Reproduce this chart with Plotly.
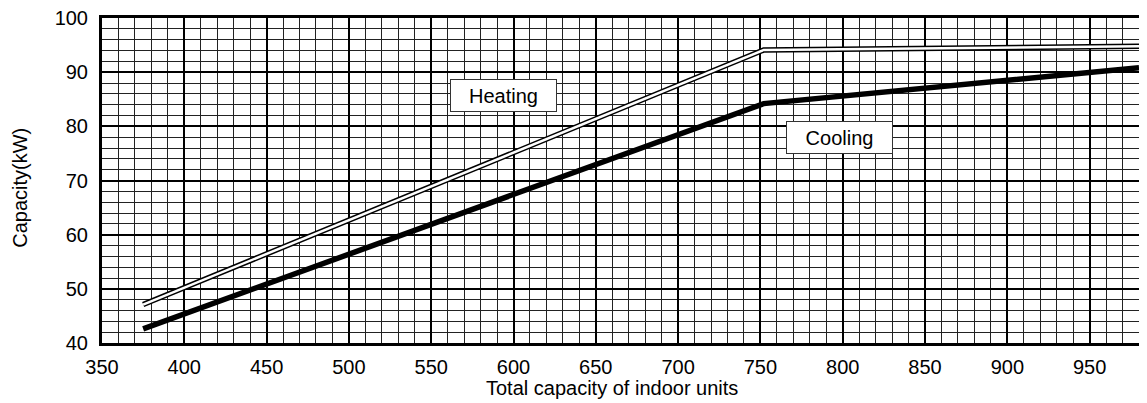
import plotly.graph_objects as go

# Data
cooling_x = [375, 752, 980]
cooling_y = [42.6, 84.2, 90.8]
heating_x = [375, 752, 980]
heating_y = [47.1, 94.1, 94.8]

x_ticks = [350, 400, 450, 500, 550, 600, 650, 700, 750, 800, 850, 900, 950]
y_ticks = [40, 50, 60, 70, 80, 90, 100]

labels = ["Heating", "Cooling"]
label_x = [594, 798]
label_y = [85.7, 78.0]

x_title = "Total capacity of indoor units"
y_title = "Capacity(kW)"

FONT = "Liberation Sans, Arial, sans-serif"

fig = go.Figure()

# Heating: double (outlined) line
fig.add_trace(go.Scatter(x=heating_x, y=heating_y, mode="lines",
                         line=dict(color="black", width=5.5), showlegend=False,
                         hoverinfo="skip"))
fig.add_trace(go.Scatter(x=heating_x, y=heating_y, mode="lines",
                         line=dict(color="white", width=2.5), showlegend=False,
                         name="Heating"))
# Cooling: thick black line
fig.add_trace(go.Scatter(x=cooling_x, y=cooling_y, mode="lines",
                         line=dict(color="black", width=5.5), showlegend=False,
                         name="Cooling"))

for t, ax_, ay_ in zip(labels, label_x, label_y):
    fig.add_annotation(x=ax_, y=ay_, text=t, showarrow=False,
                       font=dict(family=FONT, size=20, color="black"),
                       bgcolor="white", bordercolor="#333", borderwidth=1,
                       borderpad=1, width=103, height=29)

# Axis titles as annotations for exact placement
fig.add_annotation(xref="paper", yref="paper", x=0.492, y=-0.1385,
                   text=x_title, showarrow=False, xanchor="center", yanchor="middle",
                   font=dict(family=FONT, size=20, color="black"))
fig.add_annotation(xref="paper", yref="paper", x=-0.079, y=0.478,
                   text=y_title, showarrow=False, textangle=-90,
                   xanchor="center", yanchor="middle",
                   font=dict(family=FONT, size=20, color="black"))

fig.update_xaxes(range=[350, 980], tickvals=x_ticks,
                 ticktext=[str(v) for v in x_ticks],
                 showgrid=True, gridcolor="black", gridwidth=2,
                 minor=dict(dtick=10, tick0=350, showgrid=True, gridcolor="#222", gridwidth=1),
                 showline=True, linecolor="black", linewidth=3, mirror=True,
                 ticks="", ticklabelstandoff=4, zeroline=False, automargin=False,
                 ticklabeloverflow="allow",
                 tickfont=dict(family=FONT, size=20, color="black"))
fig.update_yaxes(range=[40, 100], tickvals=y_ticks,
                 ticktext=[str(v) for v in y_ticks],
                 showgrid=True, gridcolor="black", gridwidth=2,
                 minor=dict(dtick=2, tick0=40, showgrid=True, gridcolor="#222", gridwidth=1),
                 showline=True, linecolor="black", linewidth=3, mirror=True,
                 ticks="", ticklabelstandoff=7, zeroline=False, automargin=False,
                 ticklabeloverflow="allow",
                 tickfont=dict(family=FONT, size=20, color="black"))

# The page body has an 8px default margin, so the figure is sized to fit the window
fig.update_layout(width=1139, height=395,
                  margin=dict(l=94, r=8, t=10, b=60),
                  paper_bgcolor="white", plot_bgcolor="white",
                  showlegend=False)

fig.write_html("out.html")
